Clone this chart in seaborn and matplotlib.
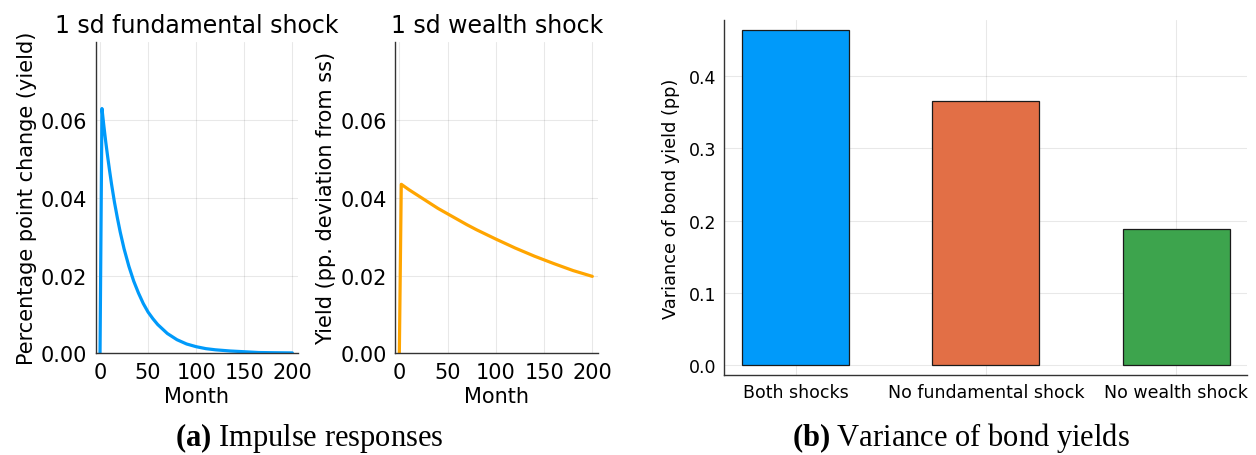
import numpy as np
import pandas as pd
import matplotlib
matplotlib.use('Agg')
import matplotlib.pyplot as plt
import seaborn as sns

# impulse responses (month, percentage points)
fund_month = [0, 2, 4, 6, 8, 10, 12, 15, 18, 21, 25, 30, 35, 40, 45, 50, 55,
              60, 70, 80, 90, 100, 110, 120, 135, 150, 165, 180, 200]
fund_irf = [0.0, 0.0630, 0.0585, 0.0543, 0.0505, 0.0469, 0.0435, 0.0389,
            0.0349, 0.0312, 0.0269, 0.0224, 0.0186, 0.0155, 0.0128, 0.0106,
            0.0089, 0.0074, 0.0051, 0.0035, 0.0024, 0.0017, 0.0012, 0.0009,
            0.0006, 0.0004, 0.0002, 0.00015, 0.0001]

wealth_month = [0, 2, 10, 20, 30, 40, 50, 60, 70, 80, 90, 100, 120, 140,
                160, 180, 200]
wealth_irf = [0.0, 0.0435, 0.0421, 0.0405, 0.0389, 0.0373, 0.0359, 0.0345,
              0.0331, 0.0318, 0.0306, 0.0294, 0.0271, 0.0250, 0.0231, 0.0213,
              0.0198]

# variance decomposition
scenarios = ['Both shocks', 'No fundamental shock', 'No wealth shock']
variances = [0.463, 0.366, 0.188]
bar_colors = ['#009AFA', '#E26F46', '#3DA44D']

sns.set_style('white')
plt.rcParams['font.family'] = ['DejaVu Sans']
plt.rcParams['text.color'] = 'black'
plt.rcParams['axes.labelcolor'] = 'black'
plt.rcParams['xtick.color'] = 'black'
plt.rcParams['ytick.color'] = 'black'
plt.rcParams['mathtext.fontset'] = 'custom'
plt.rcParams['mathtext.rm'] = 'Liberation Serif'
plt.rcParams['mathtext.bf'] = 'Liberation Serif:bold'

fig = plt.figure(figsize=(12.56, 4.56), dpi=100)
W, H = 1256, 456


def px_axes(left, top, right, bottom):
    return fig.add_axes([left / W, (H - bottom) / H, (right - left) / W, (bottom - top) / H])


def julia_style(ax, size):
    for s in ['top', 'right']:
        ax.spines[s].set_visible(False)
    for s in ['left', 'bottom']:
        ax.spines[s].set_color('#333333')
        ax.spines[s].set_linewidth(1.0)
    ax.grid(True, color='#000000', alpha=0.09, linewidth=0.8)
    ax.set_axisbelow(True)
    ax.tick_params(direction='in', length=4, width=0.8, color='#333333',
                   labelsize=size, pad=6)


# 1. fundamental shock
ax1 = px_axes(95.7, 42.7, 298.3, 354.3)
sns.lineplot(x=fund_month, y=fund_irf, ax=ax1, color='#009AFA', linewidth=2.3)
ax1.set_title('1 sd fundamental shock', fontsize=17, pad=7)
ax1.set_ylabel('Percentage point change (yield)', fontsize=15, labelpad=3)
ax1.set_xlabel('Month', fontsize=15, labelpad=3)

# 2. wealth shock
ax2 = px_axes(395, 42.7, 598.3, 354.3)
sns.lineplot(x=wealth_month, y=wealth_irf, ax=ax2, color='#FFA500', linewidth=2.3)
ax2.set_title('1 sd wealth shock', fontsize=17, pad=7)
ax2.set_ylabel('Yield (pp. deviation from ss)', fontsize=15, labelpad=3)
ax2.set_xlabel('Month', fontsize=15, labelpad=3)

for ax in (ax1, ax2):
    julia_style(ax, 15)
    ax.set_xlim(-4.5, 206.2)
    ax.set_ylim(0, 0.0802)
    ax.set_xticks([0, 50, 100, 150, 200])
    ax.set_yticks([0.0, 0.02, 0.04, 0.06])
    ax.set_yticklabels(['0.00', '0.02', '0.04', '0.06'])

# 3. variance of bond yields
ax3 = px_axes(724.3, 21, 1247.3, 376)
df = pd.DataFrame({'scenario': scenarios, 'variance': variances})
sns.barplot(data=df, x='scenario', y='variance', hue='scenario',
            palette=bar_colors, saturation=1, width=0.563, edgecolor='#1a1a1a',
            linewidth=0.9, legend=False, ax=ax3)
julia_style(ax3, 12.5)
ax3.tick_params(length=5, pad=6)
ax3.set_xlim(-0.377, 2.375)
ax3.set_ylim(-0.0138, 0.4775)
ax3.set_yticks([0.0, 0.1, 0.2, 0.3, 0.4])
ax3.set_yticklabels(['0.0', '0.1', '0.2', '0.3', '0.4'])
ax3.set_xlabel('')
ax3.set_ylabel('Variance of bond yield (pp)', fontsize=12.8, labelpad=6)

# captions
fig.text(309 / W, 1 - 446 / H, r'$\mathbf{(a)}$ Impulse responses', ha='center', va='baseline',
         fontsize=22, family='Liberation Serif')
fig.text(961 / W, 1 - 446 / H, r'$\mathbf{(b)}$ Variance of bond yields', ha='center', va='baseline',
         fontsize=22, family='Liberation Serif')

fig.savefig('out.png', dpi=100)
